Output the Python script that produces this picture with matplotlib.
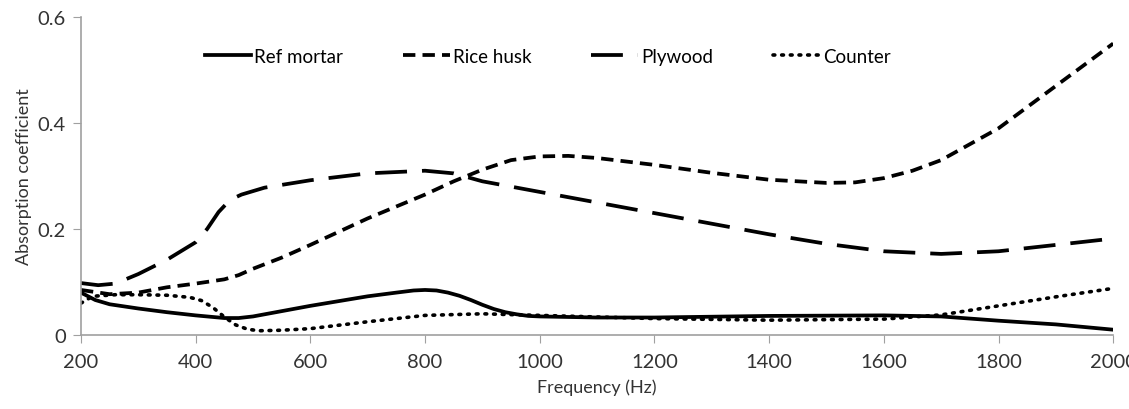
import matplotlib.pyplot as plt

# absorption coefficient curves
freq_ref = [200, 225, 250, 300, 350, 400, 450, 475, 500, 550, 600, 650, 700, 750, 780, 800, 820,
            840, 860, 880, 900, 920, 940, 960, 980, 1000, 1100, 1200, 1400, 1600, 1650, 1700,
            1750, 1800, 1900, 2000]
ref_mortar = [0.080, 0.066, 0.058, 0.050, 0.043, 0.037, 0.032, 0.032, 0.035, 0.045, 0.055, 0.064,
              0.073, 0.080, 0.084, 0.085, 0.084, 0.080, 0.074, 0.066, 0.057, 0.049, 0.043, 0.039,
              0.036, 0.035, 0.033, 0.033, 0.036, 0.037, 0.036, 0.035, 0.031, 0.027, 0.020, 0.010]

freq_rice = [200, 250, 300, 350, 400, 450, 475, 500, 550, 600, 700, 800, 850, 900, 950, 1000,
             1050, 1100, 1200, 1300, 1400, 1500, 1550, 1600, 1650, 1700, 1800, 1900, 2000]
rice_husk = [0.085, 0.077, 0.080, 0.090, 0.097, 0.105, 0.113, 0.125, 0.146, 0.170, 0.220, 0.265,
             0.290, 0.312, 0.330, 0.337, 0.338, 0.334, 0.321, 0.306, 0.293, 0.287, 0.288, 0.296,
             0.310, 0.330, 0.390, 0.470, 0.550]

freq_ply = [200, 230, 260, 300, 350, 400, 420, 440, 460, 480, 520, 600, 700, 800, 850, 900, 1000,
            1100, 1200, 1300, 1400, 1500, 1600, 1700, 1800, 1900, 2000]
plywood = [0.098, 0.094, 0.097, 0.115, 0.142, 0.175, 0.200, 0.232, 0.255, 0.265, 0.278, 0.292,
           0.305, 0.310, 0.305, 0.290, 0.270, 0.250, 0.230, 0.210, 0.190, 0.172, 0.158, 0.153,
           0.158, 0.170, 0.182]

freq_cnt = [200, 220, 260, 300, 350, 390, 410, 430, 450, 470, 490, 510, 550, 600, 700, 800, 900,
            1000, 1200, 1400, 1600, 1700, 1800, 1900, 2000]
counter = [0.060, 0.073, 0.076, 0.076, 0.075, 0.071, 0.065, 0.052, 0.034, 0.019, 0.011, 0.008,
           0.009, 0.012, 0.025, 0.037, 0.040, 0.037, 0.031, 0.028, 0.030, 0.038, 0.055, 0.072,
           0.088]

x_ticks = [200, 400, 600, 800, 1000, 1200, 1400, 1600, 1800, 2000]
y_ticks = [0, 0.2, 0.4, 0.6]
y_tick_labels = ['0', '0.2', '0.4', '0.6']

plt.rcParams['font.family'] = ['Lato', 'DejaVu Sans']

fig = plt.figure(figsize=(11.29, 4.10), dpi=100)
ax = fig.add_axes([0.0717, 0.1805, 0.9143, 0.7755])

ax.plot(freq_ref, ref_mortar, color='black', lw=2.7, label='Ref mortar',
        solid_joinstyle='round')
ax.plot(freq_rice, rice_husk, color='black', lw=2.7, linestyle=(0, (3.3, 1.9)),
        label='Rice husk')
ax.plot(freq_ply, plywood, color='black', lw=2.7, linestyle=(0, (8.5, 4)),
        label='Plywood')
ax.plot(freq_cnt, counter, color='black', lw=2.6, linestyle=(0, (0.5, 1.9)),
        dash_capstyle='round', label='Counter')

ax.set_xlim(200, 2000)
ax.set_ylim(0, 0.6)
ax.set_xticks(x_ticks)
ax.set_yticks(y_ticks)
ax.set_yticklabels(y_tick_labels)

for side in ['top', 'right']:
    ax.spines[side].set_visible(False)
for side in ['left', 'bottom']:
    ax.spines[side].set_color('#a0a0a0')
    ax.spines[side].set_linewidth(1.2)

ax.tick_params(axis='x', direction='out', length=6, color='#a0a0a0', labelsize=14.5,
               labelcolor='#333333', pad=7)
ax.tick_params(axis='y', direction='out', length=6, color='#a0a0a0', labelsize=14.5,
               labelcolor='#333333', pad=5)

ax.set_xlabel('Frequency (Hz)', fontsize=13, color='#333333', labelpad=6)
ax.set_ylabel('Absorption coefficient', fontsize=13, color='#333333', labelpad=4)

ax.legend(loc='center', bbox_to_anchor=(0.452, 0.876), ncol=4, frameon=False,
          fontsize=13.5, handlelength=2.5, handletextpad=0.15, columnspacing=3.2)

fig.savefig('out.png', dpi=100)
